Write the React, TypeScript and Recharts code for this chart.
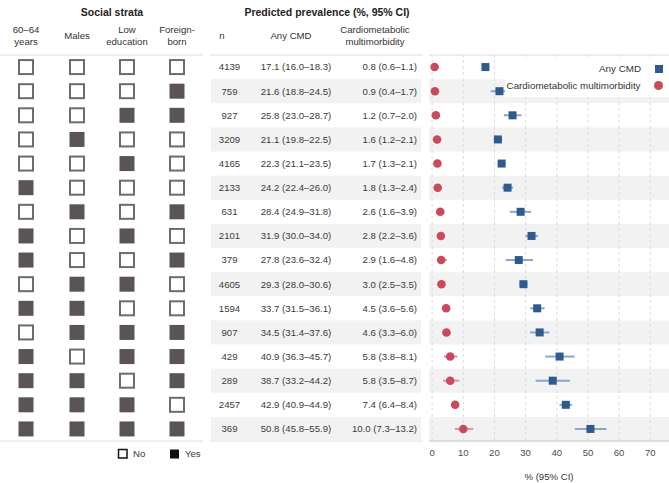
import React from 'react';
import {
  ComposedChart,
  Scatter,
  XAxis,
  YAxis,
  ErrorBar,
  ReferenceArea,
  ReferenceLine,
  Legend,
  Customized,
} from 'recharts';

// ---------------- data ----------------
const sampleN = [4139, 759, 927, 3209, 4165, 2133, 631, 2101, 379, 4605, 1594, 907, 429, 289, 2457, 369];
const anyCmd = [17.1, 21.6, 25.8, 21.1, 22.3, 24.2, 28.4, 31.9, 27.8, 29.3, 33.7, 34.5, 40.9, 38.7, 42.9, 50.8];
const anyCmdLo = [16.0, 18.8, 23.0, 19.8, 21.1, 22.4, 24.9, 30.0, 23.6, 28.0, 31.5, 31.4, 36.3, 33.2, 40.9, 45.8];
const anyCmdHi = [18.3, 24.5, 28.7, 22.5, 23.5, 26.0, 31.8, 34.0, 32.4, 30.6, 36.1, 37.6, 45.7, 44.2, 44.9, 55.9];
const multi = [0.8, 0.9, 1.2, 1.6, 1.7, 1.8, 2.6, 2.8, 2.9, 3.0, 4.5, 4.6, 5.8, 5.8, 7.4, 10.0];
const multiLo = [0.6, 0.4, 0.7, 1.2, 1.3, 1.3, 1.6, 2.2, 1.6, 2.5, 3.6, 3.3, 3.8, 3.5, 6.4, 7.3];
const multiHi = [1.1, 1.7, 2.0, 2.1, 2.1, 2.4, 3.9, 3.6, 4.8, 3.5, 5.6, 6.0, 8.1, 8.7, 8.4, 13.2];

const age6064 = [0, 0, 0, 0, 0, 1, 0, 1, 1, 0, 1, 0, 1, 1, 1, 1];
const males = [0, 0, 0, 1, 0, 0, 1, 0, 0, 1, 1, 1, 0, 1, 1, 1];
const lowEducation = [0, 0, 1, 0, 1, 0, 0, 1, 0, 1, 0, 1, 1, 0, 1, 1];
const foreignBorn = [0, 1, 1, 0, 0, 0, 1, 0, 1, 0, 0, 1, 1, 1, 0, 1];

const strataHeaders = [['60\u201364', 'years'], ['Males'], ['Low', 'education'], ['Foreign-', 'born']];
const tableHeaders = [['n'], ['Any CMD'], ['Cardiometabolic', 'multimorbidity']];
const xTicks = [0, 10, 20, 30, 40, 50, 60, 70];
const seriesNames = ['Any CMD', 'Cardiometabolic multimorbidity'];

// ---------------- layout / style ----------------
const W = 669;
const H = 483;
const MARGIN = { top: 55, right: 0, bottom: 0, left: 0 };
const X_AXIS_H = 42;
const Y_AXIS_W = 429;
const PLOT_H = H - MARGIN.top - MARGIN.bottom - X_AXIS_H;
const ROW_H = PLOT_H / sampleN.length;

const FONT = '"Liberation Sans", Arial, Helvetica, sans-serif';
const BLUE = '#2f5b8c';
const BLUE_CI = '#8ba6c6';
const RED = '#c94a5b';
const RED_CI = '#e2939c';
const BAND = '#f2f2f2';
const BOX_FILL = '#5a5458';
const BOX_STROKE = '#6f6a6d';
const TEXT = '#3a3a3a';
const LINE = '#dedede';

const STRATA_X = [26, 77, 127, 177];
const N_X = 229.5;
const CMD_X = 296;
const MULTI_X = 417;
const TABLE_L = 211;
const TABLE_R = 421;

const fmt = (v: number) => v.toFixed(1);
const rowIds = sampleN.map((_, i) => i + 1);
const strata = [age6064, males, lowEducation, foreignBorn];

const cmdData = anyCmd.map((v, i) => ({ x: v, y: i + 1, err: [v - anyCmdLo[i], anyCmdHi[i] - v] }));
const multiData = multi.map((v, i) => ({ x: v, y: i + 1, err: [v - multiLo[i], multiHi[i] - v] }));

const RowTick = (props: any) => {
  const { y, payload } = props;
  const i = Math.round(payload.value) - 1;
  if (i < 0 || i >= sampleN.length) return null;
  const shaded = i % 2 === 1;
  return (
    <g>
      {shaded && (
        <rect x={TABLE_L} y={y - ROW_H / 2} width={TABLE_R - TABLE_L} height={ROW_H} fill={BAND} />
      )}
      {strata.map((col, k) =>
        col[i] ? (
          <rect key={k} x={STRATA_X[k] - 7.5} y={y - 7.5} width={15} height={15} fill={BOX_FILL} />
        ) : (
          <rect
            key={k}
            x={STRATA_X[k] - 7}
            y={y - 7}
            width={14}
            height={14}
            fill="#fff"
            stroke={BOX_STROKE}
            strokeWidth={2}
          />
        )
      )}
      <text x={N_X} y={y} dy="0.35em" textAnchor="middle" fontSize={9.6} fill={TEXT} fontFamily={FONT}>
        {sampleN[i]}
      </text>
      <text x={CMD_X} y={y} dy="0.35em" textAnchor="middle" fontSize={9.6} fill={TEXT} fontFamily={FONT}>
        {`${fmt(anyCmd[i])} (${fmt(anyCmdLo[i])}\u2013${fmt(anyCmdHi[i])})`}
      </text>
      <text x={MULTI_X} y={y} dy="0.35em" textAnchor="end" fontSize={9.6} fill={TEXT} fontFamily={FONT}>
        {`${fmt(multi[i])} (${fmt(multiLo[i])}\u2013${fmt(multiHi[i])})`}
      </text>
    </g>
  );
};

const HeaderLayer = () => {
  const top = MARGIN.top;
  const bottom = H - MARGIN.bottom - X_AXIS_H;
  const headerText = (lines: string[], x: number, key: string) => {
    const y0 = lines.length === 1 ? 36 : 30;
    return (
      <text key={key} x={x} textAnchor="middle" fontSize={9.6} fill="#333" fontFamily={FONT}>
        {lines.map((l, j) => (
          <tspan key={j} x={x} y={y0 + j * 11.5} dy="0.35em">
            {l}
          </tspan>
        ))}
      </text>
    );
  };
  return (
    <g>
      <text x={112} y={12} dy="0.35em" textAnchor="middle" fontSize={10.5} fontWeight="bold" fill="#222" fontFamily={FONT}>
        Social strata
      </text>
      <text x={327} y={12} dy="0.35em" textAnchor="middle" fontSize={10.5} fontWeight="bold" fill="#222" fontFamily={FONT}>
        Predicted prevalence (%, 95% CI)
      </text>
      {strataHeaders.map((h, k) => headerText(h, STRATA_X[k], 's' + k))}
      {headerText(tableHeaders[0], 222, 't0')}
      {headerText(tableHeaders[1], 291, 't1')}
      {headerText(tableHeaders[2], 375, 't2')}
      <line x1={0} x2={203} y1={top} y2={top} stroke={LINE} />
      <line x1={TABLE_L - 1} x2={TABLE_R + 2} y1={top} y2={top} stroke={LINE} />
      <line x1={0} x2={203} y1={bottom} y2={bottom} stroke={LINE} />
      <line x1={TABLE_L - 1} x2={TABLE_R + 2} y1={bottom} y2={bottom} stroke={LINE} />
      <rect x={118.5} y={449.5} width={8.5} height={8.5} fill="#fff" stroke="#111" strokeWidth={1.5} />
      <text x={133} y={454} dy="0.35em" fontSize={9.6} fill={TEXT} fontFamily={FONT}>
        No
      </text>
      <rect x={170} y={449.5} width={9} height={9} fill="#111" />
      <text x={185} y={454} dy="0.35em" fontSize={9.6} fill={TEXT} fontFamily={FONT}>
        Yes
      </text>
    </g>
  );
};

const LegendBox = () => (
  <div
    style={{
      background: '#fff',
      fontFamily: FONT,
      fontSize: 9.8,
      color: '#333',
      padding: '1px 6px 3px 2px',
      lineHeight: '17px',
      whiteSpace: 'nowrap',
    }}
  >
    <div style={{ display: 'flex', justifyContent: 'flex-end', alignItems: 'center' }}>
      <span>{seriesNames[0]}</span>
      <span
        style={{ display: 'inline-block', flexShrink: 0, width: 8, height: 8, background: BLUE, marginLeft: 14 }}
      />
    </div>
    <div style={{ display: 'flex', justifyContent: 'flex-end', alignItems: 'center' }}>
      <span>{seriesNames[1]}</span>
      <span
        style={{
          display: 'inline-block',
          flexShrink: 0,
          width: 9,
          height: 9,
          borderRadius: '50%',
          background: RED,
          marginLeft: 13.5,
        }}
      />
    </div>
  </div>
);

export default function App() {
  return (
    <div style={{ position: 'absolute', left: 0, top: 0, width: W, height: H, background: '#fff' }}>
      <ComposedChart width={W} height={H} margin={MARGIN}>
        {rowIds
          .filter((r) => r % 2 === 0)
          .map((r) => (
            <ReferenceArea key={'band' + r} y1={r - 0.5} y2={r + 0.5} fill={BAND} fillOpacity={1} stroke="none" />
          ))}
        {xTicks.map((t) => (
          <ReferenceLine key={'g' + t} x={t} stroke="#dcdcdc" strokeDasharray="3 3" strokeWidth={1} />
        ))}
        <ReferenceLine y={0.5} stroke={LINE} />
        <XAxis
          type="number"
          dataKey="x"
          domain={[-1, 76]}
          ticks={xTicks}
          allowDataOverflow
          height={X_AXIS_H}
          tickLine={false}
          tickSize={6}
          axisLine={{ stroke: '#c4c4c4' }}
          tick={{ fontSize: 9.6, fill: '#4d4d4d', fontFamily: FONT }}
          label={{ value: '% (95% CI)', position: 'insideBottom', offset: 3, fontSize: 9.6, fill: '#333', fontFamily: FONT }}
        />
        <YAxis
          type="number"
          dataKey="y"
          domain={[0.5, sampleN.length + 0.5]}
          ticks={rowIds}
          interval={0}
          reversed
          width={Y_AXIS_W}
          axisLine={false}
          tickLine={false}
          tick={(p: any) => <RowTick {...p} />}
        />
        <Scatter name={seriesNames[1]} data={multiData} isAnimationActive={false} shape={(p: any) => <circle cx={p.cx} cy={p.cy} r={4.3} fill={RED} />}>
          <ErrorBar dataKey="err" direction="x" width={0} stroke={RED_CI} strokeWidth={2} />
        </Scatter>
        <Scatter name={seriesNames[0]} data={cmdData} isAnimationActive={false} shape={(p: any) => <rect x={p.cx - 4} y={p.cy - 4} width={8} height={8} fill={BLUE} />}>
          <ErrorBar dataKey="err" direction="x" width={0} stroke={BLUE_CI} strokeWidth={2} />
        </Scatter>
        <Legend
          layout="horizontal"
          verticalAlign="middle"
          align="center"
          wrapperStyle={{ top: 59, left: 505, width: 164, height: 'auto' }}
          content={() => <LegendBox />}
        />
        <Customized component={HeaderLayer} />
      </ComposedChart>
    </div>
  );
}
